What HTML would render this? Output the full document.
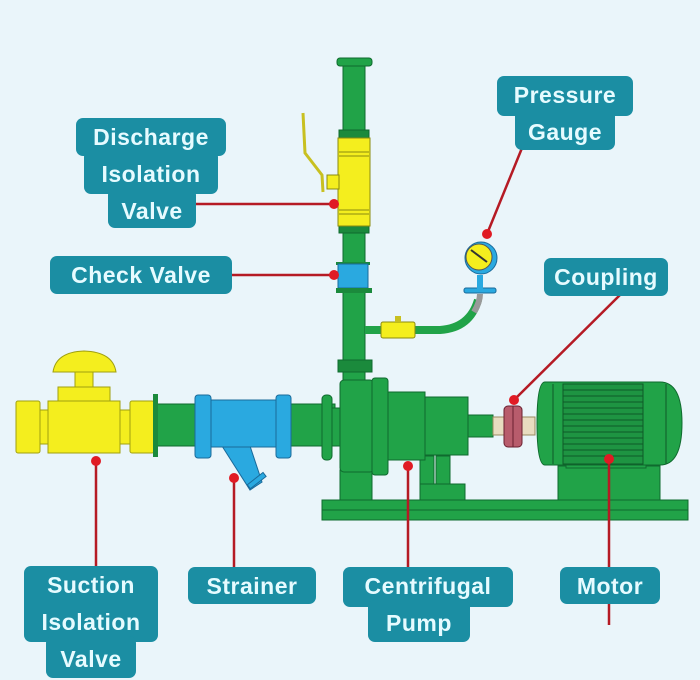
<!DOCTYPE html>
<html><head><meta charset="utf-8"><style>
html,body{margin:0;padding:0;background:#eaf5fa;}
svg{display:block}
text{font-family:"Liberation Sans",sans-serif;font-weight:bold;font-size:23px;fill:#e6fbff;text-anchor:middle;letter-spacing:0.5px}
</style></head><body>
<svg width="700" height="680" viewBox="0 0 700 680" xmlns="http://www.w3.org/2000/svg">
<rect width="700" height="680" fill="#eaf5fa"/>
<g stroke="#0f6a2e" stroke-width="1">
<!-- vertical pipe -->
<rect x="343" y="62" width="22" height="318" fill="#21a348"/>
<rect x="337" y="58" width="35" height="8" rx="3" fill="#21a348"/>
<rect x="339" y="130" width="30" height="8" fill="#1b8a3c"/>
<rect x="339" y="226" width="30" height="7" fill="#1b8a3c"/>
<rect x="338" y="360" width="34" height="12" fill="#1b8a3c"/>
</g>
<!-- discharge valve -->
<g stroke="#8a8a10" stroke-width="1">
<rect x="338" y="138" width="32" height="88" fill="#f4ee1e"/>
<line x1="339" y1="152" x2="369" y2="152"/><line x1="339" y1="156" x2="369" y2="156"/>
<line x1="339" y1="210" x2="369" y2="210"/><line x1="339" y1="214" x2="369" y2="214"/>
<rect x="327" y="175" width="12" height="14" fill="#f4ee1e"/>
<polyline points="303,113 305,153 322,175 323,192" fill="none" stroke="#c8c020" stroke-width="3"/>
</g>
<!-- check valve -->
<rect x="336" y="262" width="34" height="3" fill="#1b8a3c"/>
<rect x="338" y="264" width="30" height="24" fill="#2aa9e0" stroke="#1a6a9a"/>
<rect x="336" y="288" width="36" height="5" fill="#1b8a3c"/>
<!-- gauge branch -->
<path d="M412 330 L440 330 Q470 328 478 300" fill="none" stroke="#21a348" stroke-width="8"/>
<path d="M474 312 Q480 302 480 294" fill="none" stroke="#999" stroke-width="6"/>
<rect x="365" y="326" width="16" height="8" fill="#21a348"/>
<rect x="381" y="322" width="34" height="16" rx="2" fill="#f4ee1e" stroke="#8a8a10"/>
<rect x="395" y="316" width="6" height="6" fill="#c8c020"/>
<rect x="464" y="288" width="32" height="5" rx="2" fill="#2aa9e0" stroke="#1a6a9a"/>
<rect x="477" y="275" width="6" height="14" fill="#2aa9e0"/>
<circle cx="481" cy="258" r="16" fill="#2aa9e0" stroke="#1a6a9a"/>
<circle cx="479" cy="257" r="13" fill="#f4ee1e" stroke="#555"/>
<line x1="471" y1="250" x2="487" y2="262" stroke="#333" stroke-width="2"/>
<!-- horizontal pipe -->
<rect x="155" y="404" width="180" height="42" fill="#21a348" stroke="#0f6a2e"/>
<!-- suction valve -->
<g fill="#f4ee1e" stroke="#a0a010">
<rect x="16" y="401" width="24" height="52" rx="2"/>
<rect x="40" y="410" width="8" height="34"/>
<rect x="48" y="401" width="72" height="52"/>
<rect x="120" y="410" width="10" height="34"/>
<rect x="130" y="401" width="24" height="52" rx="2"/>
<rect x="58" y="387" width="52" height="14"/>
<rect x="75" y="369" width="18" height="18"/>
<path d="M53 372 Q56 352 84 351 Q113 352 116 372 Z"/>
</g>
<rect x="153" y="394" width="5" height="63" fill="#1b8a3c"/>
<!-- strainer -->
<g fill="#2aa9e0" stroke="#1a6a9a">
<path d="M222 446 L250 446 L262 482 L250 490 Z"/>
<rect x="247" y="478" width="20" height="5" transform="rotate(-38 257 481)"/>
<rect x="195" y="395" width="16" height="63" rx="3"/>
<rect x="211" y="400" width="65" height="47"/>
<rect x="276" y="395" width="15" height="63" rx="3"/>
</g>
<!-- base -->
<g fill="#21a348" stroke="#0f6a2e">
<rect x="322" y="500" width="366" height="10"/>
<rect x="322" y="510" width="366" height="10"/>
<rect x="340" y="470" width="32" height="30"/>
<rect x="420" y="456" width="14" height="44"/>
<rect x="436" y="456" width="14" height="44"/>
<rect x="420" y="484" width="45" height="16"/>
<rect x="558" y="466" width="102" height="34"/>
<rect x="566" y="452" width="80" height="16"/>
<!-- pump -->
<rect x="322" y="395" width="10" height="65" rx="4"/>
<rect x="332" y="408" width="8" height="38"/>
<rect x="340" y="380" width="34" height="92" rx="4"/>
<rect x="372" y="378" width="16" height="97" rx="3"/>
<rect x="388" y="392" width="37" height="68"/>
<rect x="425" y="397" width="43" height="58"/>
<rect x="468" y="415" width="25" height="22"/>
<!-- motor -->
<path d="M545 382 L660 382 Q682 382 682 423 Q682 465 660 465 L545 465 Q537 465 537 423 Q537 382 545 382 Z"/>
</g>
<rect x="493" y="417" width="42" height="18" fill="#e8dcc0" stroke="#9a8a60"/>
<rect x="504" y="406" width="18" height="41" rx="4" fill="#b85c6c" stroke="#6a2030"/>
<line x1="513" y1="406" x2="513" y2="447" stroke="#6a2030"/>
<g stroke="#0f5a28" stroke-width="1">
<rect x="563" y="384" width="80" height="80" fill="#1e9442"/>
<path d="M563 390H643M563 396H643M563 402H643M563 408H643M563 414H643M563 420H643M563 426H643M563 432H643M563 438H643M563 444H643M563 450H643M563 456H643"/>
<line x1="553" y1="384" x2="553" y2="464"/><line x1="666" y1="384" x2="666" y2="464"/>
</g>
<!-- leader lines -->
<g stroke="#b51a24" stroke-width="2.5" fill="none">
<line x1="196" y1="204" x2="334" y2="204"/>
<line x1="232" y1="275" x2="334" y2="275"/>
<line x1="522" y1="148" x2="487" y2="234"/>
<line x1="625" y1="290" x2="514" y2="400"/>
<line x1="96" y1="461" x2="96" y2="568"/>
<line x1="234" y1="478" x2="234" y2="568"/>
<line x1="408" y1="466" x2="408" y2="568"/>
<line x1="609" y1="459" x2="609" y2="625"/>
</g>
<g fill="#e01b24">
<circle cx="334" cy="204" r="5"/><circle cx="334" cy="275" r="5"/>
<circle cx="487" cy="234" r="5"/><circle cx="514" cy="400" r="5"/>
<circle cx="96" cy="461" r="5"/><circle cx="234" cy="478" r="5"/>
<circle cx="408" cy="466" r="5"/><circle cx="609" cy="459" r="5"/>
</g>
<!-- labels -->
<g fill="#1b8ea3">
<rect x="76" y="118" width="150" height="38" rx="7"/>
<rect x="84" y="150" width="134" height="44" rx="7"/>
<rect x="108" y="188" width="88" height="40" rx="7"/>
<rect x="50" y="256" width="182" height="38" rx="7"/>
<rect x="497" y="76" width="136" height="40" rx="7"/>
<rect x="515" y="108" width="100" height="42" rx="7"/>
<rect x="544" y="258" width="124" height="38" rx="7"/>
<rect x="24" y="566" width="134" height="76" rx="7"/>
<rect x="46" y="636" width="90" height="42" rx="7"/>
<rect x="188" y="567" width="128" height="37" rx="7"/>
<rect x="343" y="567" width="170" height="40" rx="7"/>
<rect x="368" y="600" width="102" height="42" rx="7"/>
<rect x="560" y="567" width="100" height="37" rx="7"/>
</g>
<text x="151" y="145">Discharge</text>
<text x="151" y="182">Isolation</text>
<text x="152" y="219">Valve</text>
<text x="141" y="283">Check Valve</text>
<text x="565" y="103">Pressure</text>
<text x="565" y="140">Gauge</text>
<text x="606" y="285">Coupling</text>
<text x="91" y="593">Suction</text>
<text x="91" y="630">Isolation</text>
<text x="91" y="667">Valve</text>
<text x="252" y="594">Strainer</text>
<text x="428" y="594">Centrifugal</text>
<text x="419" y="631">Pump</text>
<text x="610" y="594">Motor</text>
</svg>
</body></html>
